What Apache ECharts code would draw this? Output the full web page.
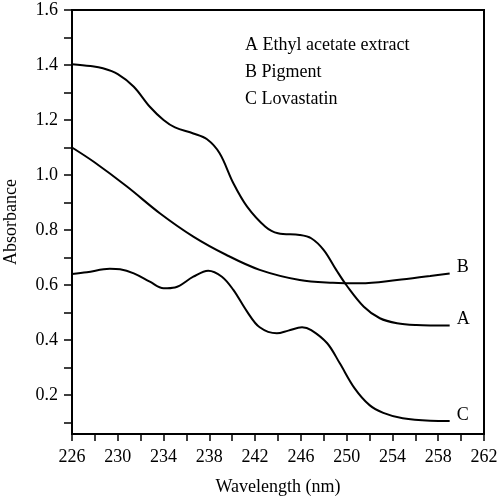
<!DOCTYPE html>
<html><head><meta charset="utf-8">
<script src="https://cdn.jsdelivr.net/npm/echarts@6/dist/echarts.min.js"></script>
<style>html,body{margin:0;padding:0;background:#fff}#c{width:500px;height:498px}</style>
</head><body><div id="c"></div>
<script>
// Data (wavelength nm, absorbance)
const seriesNames = ['A', 'B', 'C'];
const legendTexts = ['A Ethyl acetate extract', 'B Pigment', 'C Lovastatin'];
const xTickLabels = [226, 230, 234, 238, 242, 246, 250, 254, 258, 262];
const yTickLabels = [0.2, 0.4, 0.6, 0.8, 1.0, 1.2, 1.4, 1.6];
const curveA = [[226,1.403],[227.6,1.396],[228.7,1.388],[230.0,1.367],[231.4,1.321],[232.8,1.248],[234.0,1.200],[235.0,1.173],[236.6,1.151],[237.8,1.130],[238.9,1.079],[240.1,0.970],[241.3,0.885],[242.9,0.812],[244.0,0.788],[245.9,0.782],[246.9,0.770],[248.0,0.727],[249.1,0.654],[250.0,0.598],[251.5,0.521],[252.9,0.479],[254.4,0.461],[256.1,0.454],[257.3,0.453],[259.0,0.453]];
const curveB = [[226,1.100],[227.9,1.048],[230.8,0.958],[233.7,0.860],[236.6,0.776],[239.5,0.709],[242.4,0.655],[245.9,0.618],[248.8,0.608],[251.2,0.606],[254.4,0.618],[257.3,0.633],[259.0,0.642]];
const curveC = [[226,0.640],[227.3,0.646],[229.3,0.659],[230.2,0.657],[231.4,0.642],[232.8,0.612],[234.0,0.588],[235.0,0.591],[236.6,0.630],[237.9,0.652],[239.1,0.630],[240.1,0.582],[241.3,0.503],[242.4,0.446],[243.9,0.424],[244.9,0.434],[246.1,0.446],[246.9,0.436],[248.3,0.388],[249.4,0.315],[250.7,0.224],[252.0,0.163],[253.2,0.135],[254.9,0.115],[257.3,0.106],[259.0,0.105]];

const font = 'Liberation Serif';
const yMinorTicks = [];
for (let i = 1; i <= 16; i++) yMinorTicks.push(+(i / 10).toFixed(1));
const xMinorTicks = [];
for (let v = 226; v <= 262; v += 2) xMinorTicks.push(v);

const chart = echarts.init(document.getElementById('c'), null, {renderer: 'canvas'});
const mk = (name, data) => ({
  type: 'line', name, data, smooth: 0.35, showSymbol: false, symbol: 'none',
  lineStyle: {color: '#000', width: 2},
  endLabel: {show: true, formatter: name, color: '#000', fontFamily: font, fontSize: 18, distance: 7, offset: [0, -6]}
});
chart.setOption({
  animation: false,
  backgroundColor: '#fff',
  grid: {left: 72, right: 16, top: 10, bottom: 64, containLabel: false, outerBoundsMode: 'none', show: true, borderColor: '#000', borderWidth: 2, backgroundColor: 'transparent'},
  xAxis: {
    type: 'value', min: 226, max: 262, interval: 4,
    name: 'Wavelength (nm)', nameLocation: 'middle', nameGap: 44,
    nameTextStyle: {color: '#000', fontFamily: font, fontSize: 18},
    axisLine: {show: true, lineStyle: {color: '#000', width: 2}},
    axisTick: {show: true, inside: false, length: 7, customValues: xMinorTicks, lineStyle: {color: '#000', width: 1.5}},
    axisLabel: {color: '#000', fontFamily: font, fontSize: 18, margin: 14, customValues: xTickLabels},
    splitLine: {show: false}
  },
  yAxis: {
    type: 'value', min: 0.058, max: 1.6,
    name: 'Absorbance', nameLocation: 'middle', nameGap: 52, nameRotate: 90,
    nameTextStyle: {color: '#000', fontFamily: font, fontSize: 18},
    axisLine: {show: true, lineStyle: {color: '#000', width: 2}},
    axisTick: {show: true, inside: false, length: 8, customValues: yMinorTicks, lineStyle: {color: '#000', width: 1.5}},
    axisLabel: {color: '#000', fontFamily: font, fontSize: 18, margin: 14, customValues: yTickLabels, formatter: v => v.toFixed(1)},
    splitLine: {show: false}
  },
  graphic: legendTexts.map((t, i) => ({
    type: 'text', left: 245, top: 36 + i * 27,
    style: {text: t, fill: '#000', font: '18px "' + font + '"'}
  })),
  series: [mk(seriesNames[0], curveA), mk(seriesNames[1], curveB), mk(seriesNames[2], curveC)]
});
</script></body></html>
